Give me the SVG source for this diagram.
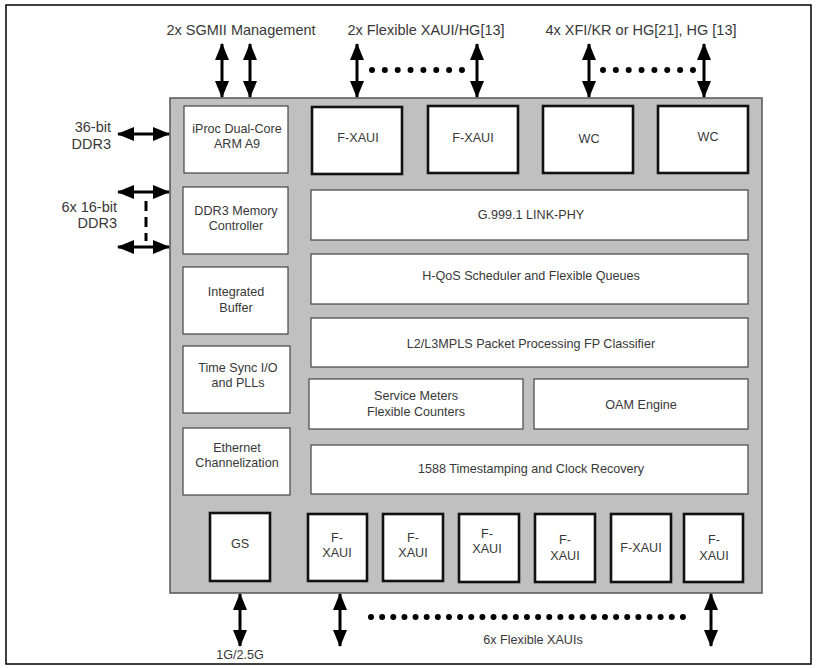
<svg xmlns="http://www.w3.org/2000/svg" width="817" height="668" viewBox="0 0 817 668">
<defs>
<marker id="ah" viewBox="0 0 17 14" refX="16" refY="7" markerWidth="17" markerHeight="14" markerUnits="userSpaceOnUse" orient="auto-start-reverse">
<path d="M0,0 L17,7 L0,14 z" fill="#000"/>
</marker>
<style>
text{font-family:"Liberation Sans",Arial,sans-serif;fill:#383838;text-anchor:middle}
.bt{font-size:12.6px}
.lb{font-size:14.5px}
.thin{fill:#fff;stroke:#444;stroke-width:1.2}
.thick{fill:#fff;stroke:#111;stroke-width:2.6}
.arr{stroke:#000;stroke-width:3;fill:none;marker-start:url(#ah);marker-end:url(#ah)}
.dots{stroke:#000;stroke-width:6;stroke-linecap:round;fill:none}
</style>
</defs>
<rect x="6" y="5" width="805" height="659" fill="#fff" stroke="#000" stroke-width="1.5"/>
<g id="chip">
<rect x="170" y="98" width="592" height="495" fill="#c0c0c0" stroke="#555" stroke-width="1.5"/>
</g>
<g id="iproc"><rect class="thin" x="184" y="106" width="104" height="67"/><text class="bt" x="237" y="133">iProc Dual-Core</text><text class="bt" x="237" y="148">ARM A9</text></g>
<g id="ddr3mc"><rect class="thin" x="183" y="187" width="105" height="67"/><text class="bt" x="236" y="215">DDR3 Memory</text><text class="bt" x="236" y="230">Controller</text></g>
<g id="ibuf"><rect class="thin" x="183" y="267" width="105" height="67"/><text class="bt" x="236" y="296">Integrated</text><text class="bt" x="236" y="312">Buffer</text></g>
<g id="tsync"><rect class="thin" x="183" y="346" width="107" height="67"/><text class="bt" x="238" y="372">Time Sync I/O</text><text class="bt" x="238" y="387">and PLLs</text></g>
<g id="ethch"><rect class="thin" x="183" y="428" width="107" height="67"/><text class="bt" x="237" y="452">Ethernet</text><text class="bt" x="237" y="467">Channelization</text></g>
<g id="fxaui-t1"><rect class="thick" x="312" y="107" width="90" height="67"/><text class="bt" x="358" y="142">F-XAUI</text></g>
<g id="fxaui-t2"><rect class="thick" x="428" y="106" width="90" height="67"/><text class="bt" x="473" y="142">F-XAUI</text></g>
<g id="wc1"><rect class="thick" x="543" y="106" width="90" height="67"/><text class="bt" x="589" y="143">WC</text></g>
<g id="wc2"><rect class="thick" x="658" y="106" width="90" height="67"/><text class="bt" x="708" y="141">WC</text></g>
<g id="linkphy"><rect class="thin" x="311" y="190" width="437" height="50"/><text class="bt" x="531" y="219">G.999.1 LINK-PHY</text></g>
<g id="hqos"><rect class="thin" x="311" y="254" width="437" height="50"/><text class="bt" x="531" y="280">H-QoS Scheduler and Flexible Queues</text></g>
<g id="l2l3"><rect class="thin" x="311" y="318" width="437" height="49"/><text class="bt" x="531" y="348">L2/L3MPLS Packet Processing FP Classifier</text></g>
<g id="svcmeters"><rect class="thin" x="309" y="379" width="214" height="50"/><text class="bt" x="416" y="400">Service Meters</text><text class="bt" x="416" y="416">Flexible Counters</text></g>
<g id="oam"><rect class="thin" x="534" y="379" width="214" height="50"/><text class="bt" x="641" y="409">OAM Engine</text></g>
<g id="ts1588"><rect class="thin" x="311" y="445" width="437" height="49"/><text class="bt" x="531" y="473">1588 Timestamping and Clock Recovery</text></g>
<g id="gs"><rect class="thick" x="210" y="513" width="60" height="68"/><text class="bt" x="240" y="548">GS</text></g>
<g id="fxaui-b1"><rect class="thick" x="308" y="514" width="59" height="67"/><text class="bt" x="337" y="542">F-</text><text class="bt" x="337" y="557">XAUI</text></g>
<g id="fxaui-b2"><rect class="thick" x="383" y="514" width="60" height="67"/><text class="bt" x="413" y="542">F-</text><text class="bt" x="413" y="557">XAUI</text></g>
<g id="fxaui-b3"><rect class="thick" x="459" y="514" width="60" height="68"/><text class="bt" x="487" y="538">F-</text><text class="bt" x="487" y="553">XAUI</text></g>
<g id="fxaui-b4"><rect class="thick" x="535" y="514" width="60" height="68"/><text class="bt" x="565" y="544">F-</text><text class="bt" x="565" y="560">XAUI</text></g>
<g id="fxaui-b5"><rect class="thick" x="611" y="514" width="60" height="68"/><text class="bt" x="641" y="552">F-XAUI</text></g>
<g id="fxaui-b6"><rect class="thick" x="684" y="514" width="59" height="68"/><text class="bt" x="714" y="544">F-</text><text class="bt" x="714" y="560">XAUI</text></g>
<g id="labels">
<text class="lb" x="241" y="35">2x SGMII Management</text>
<text class="lb" x="426" y="35">2x Flexible XAUI/HG[13]</text>
<text class="lb" x="641" y="35">4x XFI/KR or HG[21], HG [13]</text>
<text class="lb" x="111" y="132" style="text-anchor:end">36-bit</text>
<text class="lb" x="111" y="149" style="text-anchor:end">DDR3</text>
<text class="lb" x="117" y="212" style="text-anchor:end">6x 16-bit</text>
<text class="lb" x="117" y="228" style="text-anchor:end">DDR3</text>
<text class="bt" x="240" y="659">1G/2.5G</text>
<text class="bt" x="533" y="644">6x Flexible XAUIs</text>
</g>
<g id="connectors">
<line class="arr" x1="222" y1="44" x2="222" y2="97"/>
<line class="arr" x1="250" y1="44" x2="250" y2="97"/>
<line class="arr" x1="357" y1="44" x2="357" y2="97"/>
<line class="arr" x1="477" y1="44" x2="477" y2="97"/>
<line class="arr" x1="589" y1="44" x2="589" y2="97"/>
<line class="arr" x1="704" y1="44" x2="704" y2="97"/>
<line class="dots" x1="372" y1="70" x2="462" y2="70" stroke-dasharray="0 12.85"/>
<line class="dots" x1="603" y1="70" x2="693" y2="70" stroke-dasharray="0 12.85"/>
<line class="arr" x1="118" y1="134" x2="169" y2="134"/>
<line class="arr" x1="118" y1="192" x2="169" y2="192"/>
<line class="arr" x1="118" y1="247" x2="169" y2="247"/>
<line x1="146" y1="201" x2="146" y2="241" stroke="#000" stroke-width="3" stroke-dasharray="10 6"/>
<line class="arr" x1="240" y1="594" x2="240" y2="646"/>
<line class="arr" x1="340" y1="594" x2="340" y2="646"/>
<line class="arr" x1="711" y1="594" x2="711" y2="646"/>
<line class="dots" x1="371" y1="617" x2="683" y2="617" stroke-dasharray="0 11.14"/>
</g>
</svg>
